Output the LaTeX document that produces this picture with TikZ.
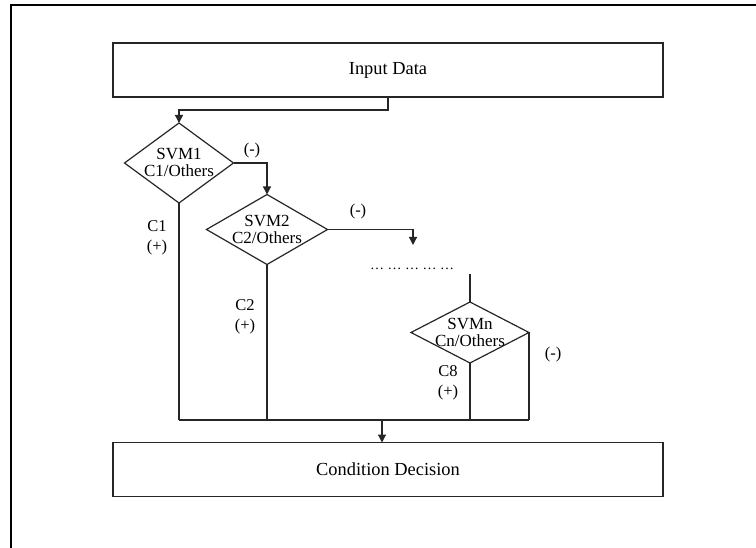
\documentclass[tikz,border=0pt]{standalone}
\usepackage{fontspec}
\setmainfont{Liberation Serif}
\usetikzlibrary{shapes.geometric,arrows.meta}
\begin{document}
\begin{tikzpicture}[x=1pt,y=-1pt,
  box/.style={draw=black!85,line width=1.3pt,minimum width=550pt,minimum height=54pt,inner sep=0pt,outer sep=0pt,font=\fontsize{18.4}{20}\selectfont},
  dec/.style={draw=black!85,line width=1.2pt,shape=diamond,inner sep=0pt,outer sep=0pt},
  dtext/.style={align=center,inner sep=0pt,font=\fontsize{17}{17}\selectfont},
  lab/.style={align=center,inner sep=0pt,font=\fontsize{16.5}{19.5}\selectfont},
  conn/.style={draw=black!85,line width=1.2pt},
  arr/.style={conn,-{Triangle[length=8pt,width=8pt]}}
]
\useasboundingbox (0,0) rectangle (756,548);
\fill[white] (0,0) rectangle (756,548);
% outer frame (only left and top edges visible)
\draw[line width=2pt] (11,560) -- (11,5) -- (770,5);

% boxes
\node[box] (input) at (388,70) {Input Data};
\node[box] (cond) at (388,469.5) {Condition Decision};

% diamonds
\node[dec,minimum width=109pt,minimum height=80pt] (s1) at (179,163) {};
\node[dtext] (s1t) at (179,162) {SVM1\\C1/Others};
\node[dec,minimum width=121pt,minimum height=70pt] (s2) at (267,229.5) {};
\node[dtext] (s2t) at (267,229) {SVM2\\C2/Others};
\node[dec,minimum width=118pt,minimum height=61pt] (sn) at (470,332.5) {};
\node[dtext] (snt) at (470,332) {SVMn\\Cn/Others};

% helper coordinates
\coordinate (a1) at (388,110);
\coordinate (a2) at (179,110);
\coordinate (b1) at (267,163);
\coordinate (c1) at (413,229.5);
\coordinate (c2) at (413,245);
\coordinate (d1) at (470,274);
\coordinate (e1) at (529,420);
\coordinate (f1) at (179,420);
\coordinate (f2) at (267,420);
\coordinate (f3) at (470,420);
\coordinate (m1) at (382,420);

% connectors
\draw[arr] (input.south -| a1) -- (a1) -- (a2) -- (s1.north);
\draw[arr] (s1.east) -- (b1) -- (s2.north);
\draw[arr] (s2.east) -- (c1) -- (c2);
\draw[conn] (d1) -- (sn.north);
\draw[conn] (sn.east) -- (e1);
\draw[conn] (s1.south) -- (f1);
\draw[conn] (s2.south) -- (f2);
\draw[conn] (sn.south) -- (f3);
\draw[conn] (f1) -- (e1);
\draw[arr] (m1) -- (cond.north -| m1);

% labels
\node[lab] (l1) at (252,151) {(-)};
\node[lab] (l2) at (358,212) {(-)};
\node[lab] (l3) at (553,355) {(-)};
\node[lab] (p1) at (157,238) {C1\\(+)};
\node[lab] (p2) at (245,317) {C2\\(+)};
\node[lab] (p3) at (448,383) {C8\\(+)};
\node[inner sep=0pt,font=\fontsize{14}{14}\selectfont] (dots) at (412,269) {… … … … …};
\end{tikzpicture}
\end{document}
